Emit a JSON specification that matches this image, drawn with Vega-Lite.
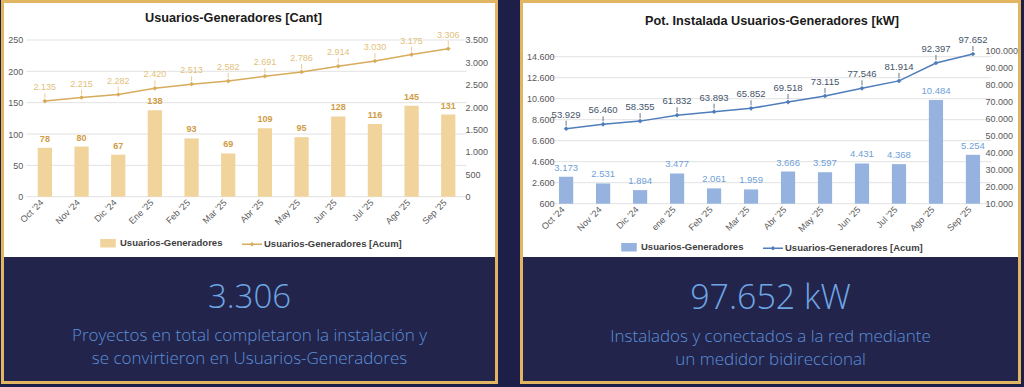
{
  "$schema": "https://vega.github.io/schema/vega-lite/v6.json",
  "background": "#1e1f48",
  "padding": {"left": 1, "top": 0, "right": 3, "bottom": 3},
  "spacing": 22,
  "datasets": {
    "left": [
      {"m": "Oct '24", "n": 78, "a": 2135},
      {"m": "Nov '24", "n": 80, "a": 2215},
      {"m": "Dic '24", "n": 67, "a": 2282},
      {"m": "Ene '25", "n": 138, "a": 2420},
      {"m": "Feb '25", "n": 93, "a": 2513},
      {"m": "Mar '25", "n": 69, "a": 2582},
      {"m": "Abr '25", "n": 109, "a": 2691},
      {"m": "May '25", "n": 95, "a": 2786},
      {"m": "Jun '25", "n": 128, "a": 2914},
      {"m": "Jul '25", "n": 116, "a": 3030},
      {"m": "Ago '25", "n": 145, "a": 3175},
      {"m": "Sep '25", "n": 131, "a": 3306}
    ],
    "right": [
      {"m": "Oct '24", "k": 3173, "a": 53929},
      {"m": "Nov '24", "k": 2531, "a": 56460},
      {"m": "Dic '24", "k": 1894, "a": 58355},
      {"m": "ene '25", "k": 3477, "a": 61832},
      {"m": "Feb '25", "k": 2061, "a": 63893},
      {"m": "Mar '25", "k": 1959, "a": 65852},
      {"m": "Abr '25", "k": 3666, "a": 69518},
      {"m": "May '25", "k": 3597, "a": 73115},
      {"m": "Jun '25", "k": 4431, "a": 77546},
      {"m": "Jul '25", "k": 4368, "a": 81914},
      {"m": "Ago '25", "k": 10484, "a": 92397},
      {"m": "Sep '25", "k": 5254, "a": 97652}
    ]
  },
  "config": {
    "locale": {"number": {"decimal": ",", "thousands": ".", "grouping": [3], "currency": ["", ""]}},
    "view": {"stroke": "#e2b563", "strokeWidth": 6},
    "axis": {"labelFont": "Liberation Sans, Arial, sans-serif", "labelColor": "#595959", "labelFontSize": 9},
    "legend": {"labelFont": "Liberation Sans, Arial, sans-serif", "labelFontSize": 9.5, "labelFontWeight": "bold", "labelColor": "#404040", "labelLimit": 0, "layout": {"anchor": "middle", "bottom": {"anchor": "middle"}}}
  },
  "resolve": {"scale": {"color": "independent"}, "legend": {"color": "independent"}},
  "hconcat": [
    {
      "title": {
        "text": "3.306",
        "subtitle": ["Proyectos en total completaron la instalación y", "se convirtieron en Usuarios-Generadores"],
        "orient": "bottom", "anchor": "middle", "frame": "bounds", "offset": -102.5, "baseline": "top",
        "font": "Open Sans", "fontSize": 33, "fontWeight": 300, "color": "#6ea6e4",
        "subtitleFont": "Open Sans", "subtitleFontSize": 17, "subtitleFontWeight": 300, "subtitleColor": "#5c91d8",
        "subtitleLineHeight": 23.5, "subtitlePadding": 13, "zindex": 1
      },
      "vconcat": [
        {
          "width": 491,
          "height": 378,
          "title": {"text": "Usuarios-Generadores  [Cant]", "offset": -27.7, "baseline": "middle", "dx": -16, "font": "Liberation Sans, Arial, sans-serif", "fontSize": 12.7, "fontWeight": "bold", "color": "#1a1a1a", "zindex": 1},
          "data": {"name": "left"},
          "layer": [
            {
              "layer": [
                {"data": {"values": [{}]}, "mark": {"type": "rect", "color": "#ffffff"}, "encoding": {"y": {"datum": 309, "type": "quantitative"}, "y2": {"datum": -96.2}}},
                {"data": {"values": [{}]}, "mark": {"type": "rect", "color": "#22244c"}, "encoding": {"y": {"datum": -96.2, "type": "quantitative"}, "y2": {"datum": -294}}},
                {
                  "data": {"values": [{"g": 0}, {"g": 50}, {"g": 100}, {"g": 150}, {"g": 200}, {"g": 250}]},
                  "mark": {"type": "rule", "color": "#e2e2e2", "strokeWidth": 1},
                  "encoding": {
                    "y": {"field": "g", "type": "quantitative"},
                    "x": {"datum": "Oct '24", "type": "nominal", "bandPosition": -0.786},
                    "x2": {"datum": "Sep '25", "bandPosition": 1.786}
                  }
                },
                {
                  "mark": {"type": "bar", "color": "#f0d49c"},
                  "encoding": {
                    "x": {
                      "field": "m", "type": "nominal",
                      "scale": {"domain": ["Oct '24", "Nov '24", "Dic '24", "Ene '25", "Feb '25", "Mar '25", "Abr '25", "May '25", "Jun '25", "Jul '25", "Ago '25", "Sep '25"], "paddingInner": 0.611, "paddingOuter": 1.125, "align": 0.46},
                      "axis": {"orient": "bottom", "offset": -184.3, "labelAngle": -45, "labelAlign": "right", "labelBaseline": "middle", "labelPadding": 4, "labelOffset": -3, "labelFontSize": 9, "domain": false, "ticks": false, "grid": false, "title": null, "zindex": 1}
                    },
                    "y": {
                      "field": "n", "type": "quantitative",
                      "scale": {"domain": [-294, 309], "nice": false, "zero": false},
                      "axis": {"orient": "left", "values": [0, 50, 100, 150, 200, 250], "offset": -20.7, "labelPadding": 2, "ticks": false, "tickSize": 0, "domain": false, "grid": false, "title": null, "format": ",.0f", "zindex": 1}
                    },
                    "y2": {"datum": 0},
                    "color": {
                      "datum": "Usuarios-Generadores", "type": "nominal",
                      "scale": {"domain": ["Usuarios-Generadores", "Usuarios-Generadores [Acum]"], "range": ["#f0d49c", "#d7ac5c"]},
                      "legend": {
                        "title": null, "orient": "bottom", "direction": "horizontal", "offset": -152.3, "symbolSize": 400, "labelOffset": 1, "columnPadding": 16, "zindex": 1,
                        "encode": {"symbols": {"update": {
                          "shape": {"signal": "datum.value === 'Usuarios-Generadores' ? 'M-0.7,-0.35H0.7V0.35H-0.7Z' : 'M-1,0H1M-0.13,0L0,-0.13L0.13,0L0,0.13Z'"},
                          "fill": {"signal": "datum.value === 'Usuarios-Generadores' ? '#f0d49c' : '#d7ac5c'"},
                          "stroke": {"signal": "datum.value === 'Usuarios-Generadores' ? 'transparent' : '#d7ac5c'"},
                          "strokeWidth": {"value": 1.5},
                          "opacity": {"value": 1}
                        }}}
                      }
                    }
                  }
                },
                {
                  "mark": {"type": "text", "baseline": "bottom", "dy": -4, "font": "Liberation Sans, Arial, sans-serif", "fontSize": 9, "fontWeight": "bold", "color": "#d09c45"},
                  "encoding": {
                    "x": {"field": "m", "type": "nominal"},
                    "y": {"field": "n", "type": "quantitative"},
                    "text": {"field": "n", "type": "quantitative", "format": ",.0f"}
                  }
                }
              ]
            },
            {
              "layer": [
                {
                  "mark": {"type": "line", "strokeWidth": 1.5},
                  "encoding": {
                    "x": {"field": "m", "type": "nominal"},
                    "y": {
                      "field": "a", "type": "quantitative",
                      "scale": {"domain": [-4116, 4326], "nice": false, "zero": false},
                      "axis": {"orient": "right", "values": [0, 500, 1000, 1500, 2000, 2500, 3000, 3500], "offset": -32, "labelPadding": 2, "ticks": false, "tickSize": 0, "domain": false, "grid": false, "title": null, "format": ",.0f", "zindex": 1}
                    },
                    "color": {"datum": "Usuarios-Generadores [Acum]", "type": "nominal"}
                  }
                },
                {
                  "mark": {"type": "rule", "color": "#e3c07e", "strokeWidth": 0.8, "yOffset": -3, "y2Offset": -8},
                  "encoding": {
                    "x": {"field": "m", "type": "nominal"},
                    "y": {"field": "a", "type": "quantitative"},
                    "y2": {"field": "a"}
                  }
                },
                {
                  "mark": {"type": "point", "shape": "diamond", "filled": true, "size": 22, "color": "#d7ac5c", "opacity": 1},
                  "encoding": {
                    "x": {"field": "m", "type": "nominal"},
                    "y": {"field": "a", "type": "quantitative"}
                  }
                },
                {
                  "mark": {"type": "text", "baseline": "middle", "dy": -14, "font": "Liberation Sans, Arial, sans-serif", "fontSize": 9, "color": "#e2bf7c"},
                  "encoding": {
                    "x": {"field": "m", "type": "nominal"},
                    "y": {"field": "a", "type": "quantitative"},
                    "text": {"field": "a", "type": "quantitative", "format": ",.0f"}
                  }
                }
              ]
            }
          ],
          "resolve": {"scale": {"y": "independent"}}
        }
      ]
    },
    {
      "title": {
        "text": "97.652 kW",
        "subtitle": ["Instalados y conectados a la red mediante", "un medidor bidireccional"],
        "orient": "bottom", "anchor": "middle", "frame": "bounds", "offset": -102.5, "baseline": "top",
        "font": "Open Sans", "fontSize": 34, "fontWeight": 300, "color": "#6ea6e4",
        "subtitleFont": "Open Sans", "subtitleFontSize": 17, "subtitleFontWeight": 300, "subtitleColor": "#5c91d8",
        "subtitleLineHeight": 23.5, "subtitlePadding": 13, "zindex": 1
      },
      "vconcat": [
        {
          "width": 495,
          "height": 378,
          "title": {"text": "Pot. Instalada Usuarios-Generadores  [kW]", "offset": -31, "baseline": "middle", "dx": 1.5, "font": "Liberation Sans, Arial, sans-serif", "fontSize": 12.7, "fontWeight": "bold", "color": "#1a1a1a", "zindex": 1},
          "data": {"name": "right"},
          "layer": [
            {
              "layer": [
                {"data": {"values": [{}]}, "mark": {"type": "rect", "color": "#ffffff"}, "encoding": {"y": {"datum": 19714, "type": "quantitative"}, "y2": {"datum": -4477}}},
                {"data": {"values": [{}]}, "mark": {"type": "rect", "color": "#22244c"}, "encoding": {"y": {"datum": -4477, "type": "quantitative"}, "y2": {"datum": -16286}}},
                {
                  "data": {"values": [{"g": 600}, {"g": 2600}, {"g": 4600}, {"g": 6600}, {"g": 8600}, {"g": 10600}, {"g": 12600}, {"g": 14600}]},
                  "mark": {"type": "rule", "color": "#e2e2e2", "strokeWidth": 1},
                  "encoding": {
                    "y": {"field": "g", "type": "quantitative"},
                    "x": {"datum": "Oct '24", "type": "nominal", "bandPosition": -0.802},
                    "x2": {"datum": "Sep '25", "bandPosition": 1.802}
                  }
                },
                {
                  "mark": {"type": "bar", "color": "#95b3de"},
                  "encoding": {
                    "x": {
                      "field": "m", "type": "nominal",
                      "scale": {"domain": ["Oct '24", "Nov '24", "Dic '24", "ene '25", "Feb '25", "Mar '25", "Abr '25", "May '25", "Jun '25", "Jul '25", "Ago '25", "Sep '25"], "paddingInner": 0.616, "paddingOuter": 1.453, "align": 0.487},
                      "axis": {"orient": "bottom", "offset": -177.3, "labelAngle": -45, "labelAlign": "right", "labelBaseline": "middle", "labelPadding": 4, "labelOffset": -3, "labelFontSize": 9, "domain": false, "ticks": false, "grid": false, "title": null, "zindex": 1}
                    },
                    "y": {
                      "field": "k", "type": "quantitative",
                      "scale": {"domain": [-16286, 19714], "nice": false, "zero": false},
                      "axis": {"orient": "left", "values": [600, 2600, 4600, 6600, 8600, 10600, 12600, 14600], "offset": -33, "labelPadding": 2, "ticks": false, "tickSize": 0, "domain": false, "grid": false, "title": null, "format": ",.0f", "zindex": 1}
                    },
                    "y2": {"datum": 600},
                    "color": {
                      "datum": "Usuarios-Generadores", "type": "nominal",
                      "scale": {"domain": ["Usuarios-Generadores", "Usuarios-Generadores [Acum]"], "range": ["#95b3de", "#4f7dbb"]},
                      "legend": {
                        "title": null, "orient": "bottom", "direction": "horizontal", "offset": -148.3, "symbolSize": 400, "labelOffset": 1, "columnPadding": 16, "zindex": 1,
                        "encode": {"symbols": {"update": {
                          "shape": {"signal": "datum.value === 'Usuarios-Generadores' ? 'M-0.7,-0.35H0.7V0.35H-0.7Z' : 'M-1,0H1M-0.13,0L0,-0.13L0.13,0L0,0.13Z'"},
                          "fill": {"signal": "datum.value === 'Usuarios-Generadores' ? '#95b3de' : '#4f7dbb'"},
                          "stroke": {"signal": "datum.value === 'Usuarios-Generadores' ? 'transparent' : '#4f7dbb'"},
                          "strokeWidth": {"value": 1.5},
                          "opacity": {"value": 1}
                        }}}
                      }
                    }
                  }
                },
                {
                  "mark": {"type": "text", "baseline": "bottom", "dy": -4, "font": "Liberation Sans, Arial, sans-serif", "fontSize": 9.5, "color": "#6f9fd8"},
                  "encoding": {
                    "x": {"field": "m", "type": "nominal"},
                    "y": {"field": "k", "type": "quantitative"},
                    "text": {"field": "k", "type": "quantitative", "format": ",.0f"}
                  }
                }
              ]
            },
            {
              "layer": [
                {
                  "mark": {"type": "line", "strokeWidth": 1.5},
                  "encoding": {
                    "x": {"field": "m", "type": "nominal"},
                    "y": {
                      "field": "a", "type": "quantitative",
                      "scale": {"domain": [-93829, 127523], "nice": false, "zero": false},
                      "axis": {"orient": "right", "values": [10000, 20000, 30000, 40000, 50000, 60000, 70000, 80000, 90000, 100000], "offset": -35, "labelPadding": 2, "ticks": false, "tickSize": 0, "domain": false, "grid": false, "title": null, "format": ",.0f", "zindex": 1}
                    },
                    "color": {"datum": "Usuarios-Generadores [Acum]", "type": "nominal"}
                  }
                },
                {
                  "mark": {"type": "rule", "color": "#44546a", "strokeWidth": 0.8, "yOffset": -3, "y2Offset": -8},
                  "encoding": {
                    "x": {"field": "m", "type": "nominal"},
                    "y": {"field": "a", "type": "quantitative"},
                    "y2": {"field": "a"}
                  }
                },
                {
                  "mark": {"type": "point", "shape": "diamond", "filled": true, "size": 22, "color": "#4f7dbb", "opacity": 1},
                  "encoding": {
                    "x": {"field": "m", "type": "nominal"},
                    "y": {"field": "a", "type": "quantitative"}
                  }
                },
                {
                  "mark": {"type": "text", "baseline": "middle", "dy": -14, "font": "Liberation Sans, Arial, sans-serif", "fontSize": 9.5, "color": "#44546a"},
                  "encoding": {
                    "x": {"field": "m", "type": "nominal"},
                    "y": {"field": "a", "type": "quantitative"},
                    "text": {"field": "a", "type": "quantitative", "format": ",.0f"}
                  }
                }
              ]
            }
          ],
          "resolve": {"scale": {"y": "independent"}}
        }
      ]
    }
  ]
}
